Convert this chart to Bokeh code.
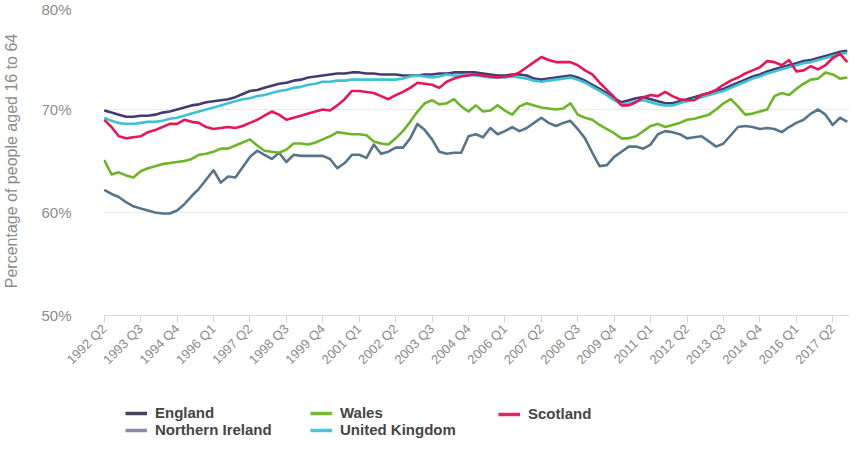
import math
from bokeh.plotting import figure
from bokeh.layouts import column
from bokeh.models import Range1d, FixedTicker, Legend, LegendItem, ColumnDataSource
from bokeh.embed import file_html
from bokeh.resources import INLINE

# Quarter labels 1992 Q2 .. 2017 Q4
quarters = []
_y, _q = 1992, 2
for _i in range(103):
    quarters.append(f"{_y} Q{_q}")
    _q += 1
    if _q > 4:
        _q = 1
        _y += 1

tick_positions = list(range(0, 101, 5))
y_ticks = [50, 60, 70, 80]
y_tick_labels = ["50%", "60%", "70%", "80%"]

england = [69.9, 69.7, 69.5, 69.3, 69.3, 69.4, 69.4, 69.5, 69.7, 69.8,
           70.0, 70.2, 70.4, 70.5, 70.7, 70.8, 70.9, 71.0, 71.2, 71.5,
           71.8, 71.9, 72.1, 72.3, 72.5, 72.6, 72.8, 72.9, 73.1, 73.2,
           73.3, 73.4, 73.5, 73.5, 73.6, 73.6, 73.5, 73.5, 73.4, 73.4,
           73.4, 73.3, 73.3, 73.3, 73.4, 73.4, 73.5, 73.5, 73.6, 73.6,
           73.6, 73.6, 73.5, 73.4, 73.3, 73.3, 73.4, 73.4, 73.3, 73.0,
           72.9, 73.0, 73.1, 73.2, 73.3, 73.1, 72.8, 72.4, 72.0, 71.6,
           71.1, 70.7, 70.9, 71.1, 71.2, 71.0, 70.8, 70.6, 70.6, 70.8,
           71.0, 71.2, 71.4, 71.6, 71.8, 72.0, 72.3, 72.6, 72.9, 73.2,
           73.4, 73.7, 73.9, 74.1, 74.3, 74.5, 74.7, 74.8, 75.0, 75.2,
           75.4, 75.6, 75.7]

united_kingdom = [69.2, 68.9, 68.7, 68.6, 68.6, 68.7, 68.8, 68.8, 68.9, 69.1,
                  69.2, 69.4, 69.6, 69.8, 70.0, 70.2, 70.4, 70.6, 70.8, 71.0,
                  71.1, 71.3, 71.4, 71.6, 71.8, 71.9, 72.1, 72.2, 72.4, 72.5,
                  72.7, 72.7, 72.8, 72.8, 72.9, 72.9, 72.9, 72.9, 72.9, 72.9,
                  72.9, 73.0, 73.2, 73.3, 73.2, 73.1, 73.2, 73.4, 73.3, 73.3,
                  73.4, 73.3, 73.2, 73.1, 73.1, 73.1, 73.2, 73.1, 73.0, 72.8,
                  72.7, 72.8, 72.9, 73.0, 73.1, 72.9, 72.6, 72.2, 71.8, 71.4,
                  70.9, 70.5, 70.6, 70.8, 70.9, 70.7, 70.5, 70.4, 70.4, 70.6,
                  70.8, 71.0, 71.2, 71.4, 71.6, 71.8, 72.1, 72.4, 72.7, 73.0,
                  73.2, 73.5, 73.7, 73.9, 74.1, 74.3, 74.5, 74.6, 74.8, 75.0,
                  75.2, 75.4, 75.5]

scotland = [69.0, 68.3, 67.4, 67.2, 67.3, 67.4, 67.8, 68.0, 68.3, 68.6,
            68.6, 69.0, 68.8, 68.7, 68.3, 68.1, 68.2, 68.3, 68.2, 68.4,
            68.7, 69.0, 69.4, 69.8, 69.5, 69.0, 69.2, 69.4, 69.6, 69.8,
            70.0, 69.9, 70.4, 71.0, 71.8, 71.8, 71.7, 71.6, 71.3, 71.0,
            71.4, 71.7, 72.1, 72.6, 72.5, 72.4, 72.1, 72.7, 73.0, 73.2,
            73.3, 73.4, 73.3, 73.2, 73.1, 73.2, 73.3, 73.6, 74.1, 74.6,
            75.1, 74.8, 74.6, 74.6, 74.6, 74.3, 73.8, 73.4, 72.6, 71.9,
            71.2, 70.4, 70.4, 70.7, 71.2, 71.4, 71.3, 71.7, 71.3, 71.0,
            70.9, 70.9, 71.4, 71.6, 71.9, 72.4, 72.8, 73.1, 73.5, 73.8,
            74.1, 74.7, 74.6, 74.3, 74.8, 73.7, 73.8, 74.2, 73.9, 74.3,
            75.0, 75.4, 74.6]

wales = [65.1, 63.7, 63.9, 63.6, 63.4, 64.0, 64.3, 64.5, 64.7, 64.8,
         64.9, 65.0, 65.2, 65.6, 65.7, 65.9, 66.2, 66.2, 66.5, 66.8,
         67.1, 66.5, 66.0, 65.9, 65.8, 66.1, 66.7, 66.7, 66.6, 66.8,
         67.1, 67.4, 67.8, 67.7, 67.6, 67.6, 67.5, 66.9, 66.7, 66.6,
         67.2, 67.9, 68.8, 69.8, 70.6, 70.9, 70.5, 70.6, 71.0, 70.3,
         69.8, 70.4, 69.8, 69.9, 70.4, 69.9, 69.5, 70.3, 70.6, 70.4,
         70.2, 70.1, 70.0, 70.1, 70.6, 69.5, 69.2, 69.0, 68.5, 68.1,
         67.7, 67.2, 67.2, 67.4, 67.9, 68.4, 68.6, 68.3, 68.5, 68.7,
         69.0, 69.1, 69.3, 69.5, 70.0, 70.6, 71.0, 70.3, 69.5, 69.6,
         69.8, 70.0, 71.3, 71.6, 71.4, 72.0, 72.5, 72.9, 73.0, 73.6,
         73.4, 73.0, 73.1]

northern_ireland = [62.2, 61.8, 61.5, 61.0, 60.6, 60.4, 60.2, 60.0, 59.9, 59.9,
                    60.2, 60.8, 61.6, 62.3, 63.2, 64.1, 62.9, 63.5, 63.4, 64.4,
                    65.4, 66.0, 65.6, 65.2, 65.8, 64.9, 65.6, 65.5, 65.5, 65.5,
                    65.5, 65.2, 64.3, 64.8, 65.6, 65.6, 65.3, 66.6, 65.7, 65.9,
                    66.3, 66.3, 67.2, 68.6, 68.0, 67.1, 65.9, 65.7, 65.8, 65.8,
                    67.4, 67.6, 67.3, 68.2, 67.6, 67.9, 68.3, 67.9, 68.2, 68.7,
                    69.2, 68.7, 68.4, 68.7, 68.9, 68.1, 67.2, 65.8, 64.5, 64.6,
                    65.4, 65.9, 66.4, 66.4, 66.2, 66.6, 67.6, 67.9, 67.8, 67.6,
                    67.2, 67.3, 67.4, 66.9, 66.4, 66.7, 67.5, 68.3, 68.4, 68.3,
                    68.1, 68.2, 68.1, 67.8, 68.3, 68.7, 69.0, 69.6, 70.0, 69.5,
                    68.5, 69.2, 68.8]

series_names = ["England", "Northern Ireland", "Wales", "United Kingdom", "Scotland"]
series_cols = {"England": "england", "Northern Ireland": "ni", "Wales": "wales",
               "United Kingdom": "uk", "Scotland": "scotland"}
series_colors = {
    "England": "#443c70",
    "Northern Ireland": "#587488",
    "Wales": "#6db526",
    "United Kingdom": "#3fc0d3",
    "Scotland": "#e2175c",
}
legend_colors = {
    "England": "#45445f",
    "Northern Ireland": "#8a89a6",
    "Wales": "#74bb32",
    "United Kingdom": "#4fc4d5",
    "Scotland": "#e2275f",
}
draw_order = ["Northern Ireland", "Wales", "England", "United Kingdom", "Scotland"]

FONT = "Liberation Sans"
LW = 2.6

p = figure(width=850, height=385, output_backend="svg", toolbar_location=None,
           x_range=Range1d(-0.1, 102.3), y_range=Range1d(50, 80),
           min_border_left=92, min_border_right=1, min_border_top=6,
           min_border_bottom=70)
p.title = None
p.outline_line_color = None
p.background_fill_color = "white"
p.border_fill_color = "white"

x = list(range(len(quarters)))
src = ColumnDataSource(dict(x=x, england=england, uk=united_kingdom,
                            scotland=scotland, wales=wales, ni=northern_ireland))

for name in draw_order:
    p.line("x", series_cols[name], source=src, line_color=series_colors[name],
           line_width=LW, line_join="round")

# Axes
xa = p.xaxis[0]
xa.ticker = FixedTicker(ticks=tick_positions)
xa.major_label_overrides = {t: quarters[t] for t in tick_positions}
xa.major_label_orientation = math.pi / 4
xa.minor_tick_line_color = None
xa.major_tick_in = 0
xa.major_tick_out = 7
xa.major_tick_line_color = "#d6d6d6"
xa.axis_line_color = "#d6d6d6"
xa.major_label_text_color = "#8c8c8c"
xa.major_label_text_font = FONT
xa.major_label_text_font_size = "13px"
xa.major_label_standoff = 4

ya = p.yaxis[0]
ya.ticker = FixedTicker(ticks=y_ticks)
ya.major_label_overrides = dict(zip(y_ticks, y_tick_labels))
ya.axis_line_color = None
ya.major_tick_line_color = None
ya.minor_tick_line_color = None
ya.major_label_text_color = "#8c8c8c"
ya.major_label_text_font = FONT
ya.major_label_text_font_size = "15px"
ya.major_label_standoff = 26
ya.axis_label = "Percentage of people aged 16 to 64"
ya.axis_label_text_font = FONT
ya.axis_label_text_font_style = "normal"
ya.axis_label_text_font_size = "16px"
ya.axis_label_text_color = "#8c8c8c"
ya.axis_label_standoff = 18

p.xgrid.grid_line_color = None
p.ygrid.grid_line_color = "#ececec"
p.ygrid.grid_line_width = 1

# Legend strip: a small figure below; its series renderers fall outside its
# view (y range 0..1), so only the legend swatches show.
p2 = figure(width=850, height=53, output_backend="svg", toolbar_location=None,
            x_range=Range1d(0, 1), y_range=Range1d(0, 1),
            x_axis_type=None, y_axis_type=None,
            min_border_left=0, min_border_right=0,
            min_border_top=0, min_border_bottom=0)
p2.title = None
p2.outline_line_color = None
p2.grid.visible = False

swatch = {}
for name in series_names:
    swatch[name] = p2.line("x", series_cols[name], source=src,
                           line_color=legend_colors[name], line_width=3.5)

def make_legend(names, loc):
    return Legend(items=[LegendItem(label=n, renderers=[swatch[n]]) for n in names],
                  location=loc, orientation="vertical",
                  padding=0, margin=0, spacing=0, label_height=16, glyph_height=16,
                  glyph_width=22, label_standoff=8,
                  border_line_color=None, background_fill_alpha=0,
                  label_text_font=FONT, label_text_font_style="bold",
                  label_text_font_size="15px", label_text_color="#454545")

p2.add_layout(make_legend(["England", "Northern Ireland"], (22, 0)), "center")
p2.add_layout(make_legend(["Wales", "United Kingdom"], (207, 0)), "center")
p2.add_layout(make_legend(["Scotland"], (395, 16)), "center")

layout = column(p, p2, spacing=0)
open("out.html", "w").write(file_html(layout, INLINE))
